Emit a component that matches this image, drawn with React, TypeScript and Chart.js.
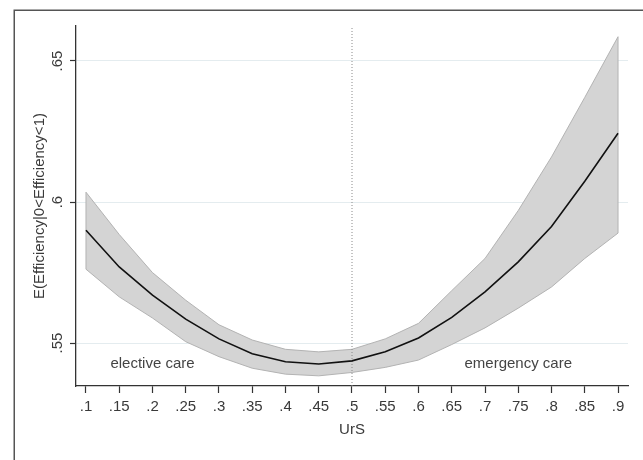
import { useEffect, useRef } from 'react';
import { Chart, registerables } from 'chart.js';

Chart.register(...registerables);

// ---- data ----
const urs = [0.1, 0.15, 0.2, 0.25, 0.3, 0.35, 0.4, 0.45, 0.5, 0.55, 0.6, 0.65, 0.7, 0.75, 0.8, 0.85, 0.9];
const xTickLabels = ['.1', '.15', '.2', '.25', '.3', '.35', '.4', '.45', '.5', '.55', '.6', '.65', '.7', '.75', '.8', '.85', '.9'];
const yTickValues = [0.55, 0.6, 0.65];
const yTickLabels = ['.55', '.6', '.65'];
const meanEff = [0.590, 0.577, 0.567, 0.5585, 0.5515, 0.5462, 0.5434, 0.5426, 0.5437, 0.5469, 0.5518, 0.5591, 0.5682, 0.5788, 0.5913, 0.6074, 0.6244];
const upperCI = [0.6035, 0.5885, 0.5750, 0.5652, 0.5565, 0.5511, 0.5478, 0.5469, 0.5478, 0.5515, 0.5570, 0.5686, 0.5800, 0.5970, 0.6160, 0.6371, 0.6586];
const lowerCI = [0.5762, 0.5664, 0.5589, 0.5505, 0.5452, 0.5411, 0.5390, 0.5384, 0.5396, 0.5414, 0.5440, 0.5495, 0.5554, 0.5624, 0.5699, 0.5800, 0.5890];
const cutoff = 0.5;
const regionLabels = ['elective care', 'emergency care'];
const regionLabelX = [0.2, 0.75];
const regionLabelY = [0.5426, 0.5426];
const xRange = [0.085, 0.915];
const yRange = [0.5348, 0.6624];
const xTitle = 'UrS';
const yTitle = 'E(Efficiency|0<Efficiency<1)';

const FONT = "'Liberation Sans', Arial, Helvetica, sans-serif";
const TEXT = '#3a3a3a';

const framePlugin = {
  id: 'frame',
  beforeDraw(chart: any) {
    const ctx = chart.ctx;
    ctx.save();
    ctx.fillStyle = '#ffffff';
    ctx.fillRect(0, 0, chart.width, chart.height);
    ctx.strokeStyle = '#555555';
    ctx.lineWidth = 1.5;
    ctx.strokeRect(14.25, 10.25, 2000, 2000);
    ctx.restore();
  },
};

const labelPlugin = {
  id: 'regionLabels',
  afterDatasetsDraw(chart: any) {
    const ctx = chart.ctx;
    const xs = chart.scales.x;
    const ys = chart.scales.y;
    ctx.save();
    ctx.font = `15px ${FONT}`;
    ctx.fillStyle = '#444444';
    ctx.textAlign = 'center';
    ctx.textBaseline = 'middle';
    regionLabels.forEach((t, i) => {
      ctx.fillText(t, xs.getPixelForValue(regionLabelX[i]), ys.getPixelForValue(regionLabelY[i]));
    });
    ctx.restore();
  },
};

export default function App() {
  const ref = useRef<HTMLCanvasElement | null>(null);

  useEffect(() => {
    document.body.style.margin = '0';
    const canvas = ref.current;
    if (!canvas) return;
    const pts = (ys: number[]) => urs.map((x, i) => ({ x, y: ys[i] }));
    const chart = new Chart(canvas, {
      type: 'line',
      data: {
        datasets: [
          {
            label: 'mean',
            data: pts(meanEff),
            borderColor: '#111111',
            borderWidth: 1.6,
            pointRadius: 0,
            fill: false,
            order: 0,
          },
          {
            label: 'cutoff',
            data: [{ x: cutoff, y: yRange[0] }, { x: cutoff, y: yRange[1] }],
            borderColor: '#8a8a8a',
            borderWidth: 1,
            borderDash: [1, 2],
            pointRadius: 0,
            fill: false,
            order: 1,
          },
          {
            label: 'upper',
            data: pts(upperCI),
            borderColor: '#b3b3b3',
            borderWidth: 1,
            backgroundColor: '#d4d4d4',
            pointRadius: 0,
            fill: '+1',
            order: 3,
          },
          {
            label: 'lower',
            data: pts(lowerCI),
            borderColor: '#b3b3b3',
            borderWidth: 1,
            pointRadius: 0,
            fill: false,
            order: 2,
          },
          {
            label: 'leftEnd',
            data: [{ x: urs[0], y: lowerCI[0] }, { x: urs[0], y: upperCI[0] }],
            borderColor: '#b3b3b3',
            borderWidth: 1,
            pointRadius: 0,
            fill: false,
            order: 2,
          },
          {
            label: 'rightEnd',
            data: [
              { x: urs[urs.length - 1], y: lowerCI[lowerCI.length - 1] },
              { x: urs[urs.length - 1], y: upperCI[upperCI.length - 1] },
            ],
            borderColor: '#b3b3b3',
            borderWidth: 1,
            pointRadius: 0,
            fill: false,
            order: 2,
          },
        ],
      },
      options: {
        animation: false,
        responsive: false,
        devicePixelRatio: 1,
        layout: { padding: { top: 26, right: 15, left: 0, bottom: 0 } },
        plugins: {
          legend: { display: false },
          tooltip: { enabled: false },
        },
        elements: { line: { tension: 0 } },
        scales: {
          x: {
            type: 'linear',
            min: xRange[0],
            max: xRange[1],
            afterBuildTicks: (s: any) => {
              s.ticks = urs.map((v) => ({ value: v }));
            },
            afterFit: (s: any) => {
              s.height = 74;
            },
            ticks: {
              callback: (_v: any, i: number) => xTickLabels[i],
              autoSkip: false,
              maxRotation: 0,
              minRotation: 0,
              padding: 5,
              color: TEXT,
              font: { family: FONT, size: 15 },
            },
            grid: {
              drawOnChartArea: false,
              drawTicks: true,
              tickLength: 7,
              tickColor: '#333333',
              tickWidth: 1.2,
            },
            border: { display: true, color: '#333333', width: 1.3 },
            title: {
              display: true,
              text: xTitle,
              color: TEXT,
              font: { family: FONT, size: 15 },
              padding: { top: 0, bottom: 21 },
            },
          },
          y: {
            type: 'linear',
            min: yRange[0],
            max: yRange[1],
            z: 1,
            afterBuildTicks: (s: any) => {
              s.ticks = yTickValues.map((v) => ({ value: v }));
            },
            afterFit: (s: any) => {
              s.width = 76;
            },
            ticks: {
              callback: (_v: any, i: number) => yTickLabels[i],
              minRotation: 90,
              maxRotation: 90,
              crossAlign: 'center',
              padding: 2,
              color: TEXT,
              font: { family: FONT, size: 15 },
            },
            grid: {
              color: '#e4ecef',
              lineWidth: 1,
              drawTicks: true,
              tickLength: 6,
              tickColor: '#333333',
              tickWidth: 1.2,
            },
            border: { display: true, color: '#333333', width: 1.3 },
            title: {
              display: true,
              text: yTitle,
              color: TEXT,
              font: { family: FONT, size: 15 },
              padding: { top: 31, bottom: 0 },
            },
          },
        },
      },
      plugins: [framePlugin, labelPlugin],
    } as any);
    return () => chart.destroy();
  }, []);

  return <canvas ref={ref} width={643} height={460} style={{ display: 'block' }} />;
}
